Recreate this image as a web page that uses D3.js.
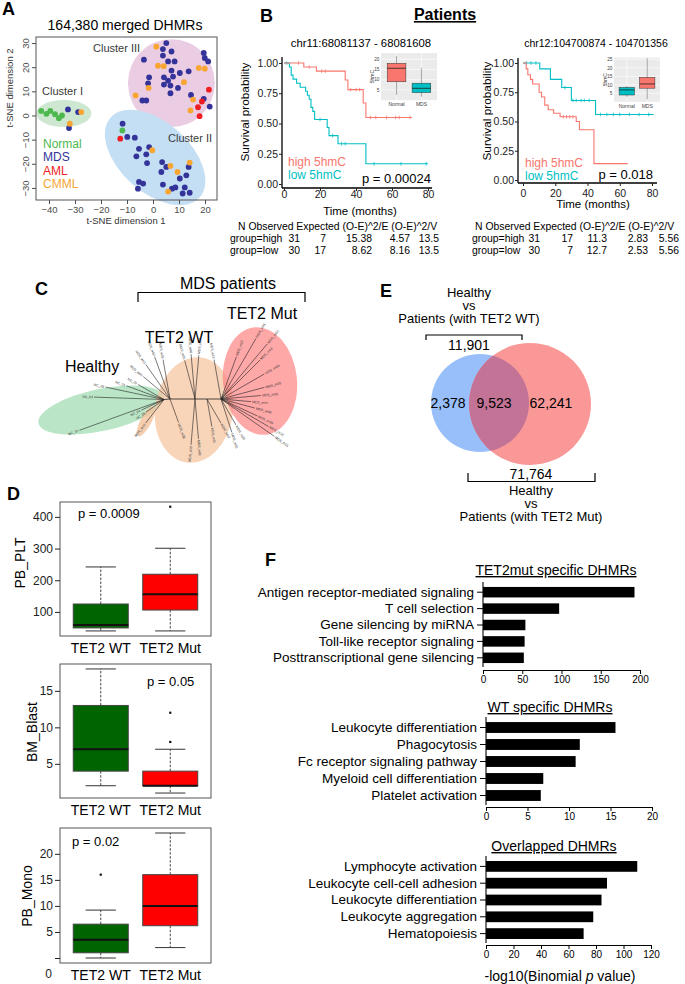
<!DOCTYPE html>
<html>
<head>
<meta charset="utf-8">
<script src="https://cdn.jsdelivr.net/npm/d3@7/dist/d3.min.js"></script>
<style>
html,body{margin:0;padding:0;background:#fff;}
svg{display:block;}
</style>
</head>
<body>
<script>
// ================= DATA =================
// Panel A: t-SNE coordinates by group
const tsneGroups = ["Normal","MDS","AML","CMML"];
const normalX = [-43,-41,-39.5,-37.7,-36.2,-35,-11.8];
const normalY = [1.9,0.7,1.9,0.5,-1.1,0,-6.2];
const mdsX = [-32.7,-28.8,-32.3,-11.7,-9.9,-7,-5.4,-6.4,-2.6,-1.5,-2.3,3.5,5.1,3.2,10.3,12.8,13.7,-5.4,-3.8,-5.8,3.8,7.3,8.6,12.2,11.4,14.1,5.1,3.8,7.1,3.8,5.8,8.3,-3.5,-1.5,-1.9,4.2,4.2,7.1,7.7,10.3,6.7,9.6,6.7,5.8,13.7,19.5,19.9,21.2,14.6,19.5,21.8,-4.1,-2.6];
const mdsY = [2.5,1.4,-5.2,-3.4,-8.9,-9.2,-13.8,-16.9,-16.1,-13.1,-19.7,-19.3,-21.3,-23.4,-26.1,-24.8,-21.3,-27.5,-28.2,-30.3,-28.6,-30.3,-29.8,-29.8,-32.3,-32,30,27.5,26.5,24.8,22.4,22.4,23.1,15.8,13.3,15.8,12.8,18.6,16.1,17.6,12.4,11.4,9.2,14.4,18.3,25.9,23.8,22.4,8.5,6.9,3.7,6.2,6.2];
const amlX = [-12.6,21.5,18.8,17.3,17.9];
const amlY = [-9.6,10.7,5.8,3.4,-0.3];
const cmmlX = [-27.6,-32,-0.3,6.7,9.4,14.1,5.8,1.3,1.9,4.1,-1.7,11.9,17.6,19.9,-6.7,15.4,14.4];
const cmmlY = [1.4,-3.4,-14.4,-20.9,-23.4,-19.5,-31.5,28.5,20.6,20.4,11.4,13.8,19.7,19.4,8.3,6.6,2.1];
const tsneXTicks = [-40,-30,-20,-10,0,10,20];
const tsneYTicks = [-30,-20,-10,0,10,20,30];
const clusterNames = ["Cluster I","Cluster II","Cluster III"];

// Panel B: Kaplan-Meier step curves
const kmTicksX = [0,20,40,60,80];
const kmTicksY = [0,0.25,0.5,0.75,1];
const kmLeftHighT = [0,11,18,34,35.5,44,45.5,71];
const kmLeftHighS = [1,0.967,0.933,0.86,0.78,0.67,0.55,0.55];
const kmLeftLowT = [0,3,4,5,7,9,12,13,14,15,16,17,24,25,30,45.5,80];
const kmLeftLowS = [1,0.967,0.9,0.867,0.833,0.8,0.767,0.733,0.7,0.633,0.6,0.533,0.467,0.4,0.333,0.167,0.167];
const kmRightHighT = [0,2,3,4.6,6,10,11.5,13.5,15.6,19,23,33,35,44,65];
const kmRightHighS = [1,0.95,0.9,0.86,0.82,0.75,0.71,0.64,0.6,0.57,0.54,0.5,0.43,0.14,0.14];
const kmRightLowT = [0,10.4,17,24,30,45,81];
const kmRightLowS = [1,0.95,0.86,0.79,0.68,0.56,0.56];
const leftHighCens = [8,14,21,23,37,40,42,48,51,57,62,64,70];
const leftLowCens = [1.5,20,27,32,34,50,65,79];
const rightHighCens = [25,27,29,31];
const rightLowCens = [2,5,8,26,31,33,36,38,41,48,52,56,60,66,72,78];
// inset boxplots [min,q1,median,q3,max]
const insetCats = ["Normal","MDS"];
const insetLeftNormal = [2.6,9,15.6,18,21.5];
const insetLeftMDS = [1.7,3.7,5.8,8.3,15.6];
const insetRightNormal = [3,4,7,8.5,9.3];
const insetRightMDS = [1.5,8,10.5,14.4,25.6];
const insetLeftTicks = [5,10,15,20];
const insetRightTicks = [5,10,15,20,25];
const tableHeader = "N Observed Expected (O-E)^2/E (O-E)^2/V";
const leftTableRows = [["group=high","31","7","15.38","4.57","13.5"],["group=low","30","17","8.62","8.16","13.5"]];
const rightTableRows = [["group=high","31","17","11.3","2.83","5.56"],["group=low","30","7","12.7","2.53","5.56"]];

// Panel C: unrooted tree (hub: id,parent,angle,length ; leaf: parent,angle,length,group,id)
const treeHubs = [["A","R",180,25],["B","A",185,6],["C","R",0,12],["D","C",0,14]];
const treeLeaves = [
 ["B",200,90,"H","NC_07"],["B",178,70,"H","NC_03"],["B",168,60,"H","NC_05"],["B",160,40,"H","NC_01"],
 ["B",150,30,"H","NC_02"],["B",205,25,"H","NC_04"],["B",215,22,"H","NC_06"],["B",232,30,"W","MDS_w14"],
 ["A",125,42,"W","MDS_w01"],["A",110,45,"W","MDS_w02"],["A",100,40,"W","MDS_w03"],["A",140,35,"W","MDS_w04"],
 ["R",105,40,"W","MDS_w05"],["R",95,45,"W","MDS_w06"],["R",85,44,"W","MDS_w07"],
 ["A",290,25,"W","MDS_w08"],["R",275,40,"W","MDS_w09"],["R",265,46,"W","MDS_w10"],["C",280,28,"W","MDS_w11"],
 ["C",300,28,"W","MDS_w12"],["D",100,40,"W","MDS_w13"],["D",300,30,"W","MDS_w15"],["D",288,35,"W","MDS_w16"],
 ["D",60,70,"M","MDS_m01"],["D",50,72,"M","MDS_m02"],["D",45,55,"M","MDS_m03"],["D",30,50,"M","MDS_m04"],
 ["D",15,45,"M","MDS_m05"],["D",5,40,"M","MDS_m06"],["D",-5,30,"M","MDS_m07"],["D",-15,35,"M","MDS_m08"],
 ["D",-25,40,"M","MDS_m09"],["D",-30,55,"M","MDS_m10"],["D",-35,65,"M","MDS_m11"],["D",70,45,"M","MDS_m12"]
];
const treeGroupNames = ["Healthy","TET2 WT","TET2 Mut"];

// Panel D: boxplots [min,q1,median,q3,max]
const dCats = ["TET2 WT","TET2 Mut"];
const pltWT = [40,49.5,59,125,242];
const pltMut = [40,106,156,219,301];
const pltMutOut = [432];
const pltTicks = [100,200,300,400];
const blastWT = [2,4,7,13,18];
const blastMut = [1,2,2,4,7];
const blastMutOut = [8,12];
const blastTicks = [5,10,15];
const monoWT = [0,1,3.5,6.5,9.2];
const monoWTOut = [16];
const monoMut = [2,6.2,10,16,24];
const monoTicks = [0,5,10,15,20];
const pValuesD = ["p = 0.0009","p = 0.05","p = 0.02"];

// Panel E: Venn
const vennRegions = ["2,378","9,523","62,241"];
const vennTotals = ["11,901","71,764"];
const vennSetNames = [["Healthy","vs","Patients (with TET2 WT)"],["Healthy","vs","Patients (with TET2 Mut)"]];

// Panel F: GO enrichment
const fTopTerms = ["Antigen receptor-mediated signaling","T cell selection","Gene silencing by miRNA","Toll-like receptor signaling","Posttranscriptional gene silencing"];
const fTopVals = [193,97,54,53,52];
const fTopTicks = [0,50,100,150,200];
const fMidTerms = ["Leukocyte differentiation","Phagocytosis","Fc receptor signaling pathway","Myeloid cell differentiation","Platelet activation"];
const fMidVals = [15.6,11.3,10.8,6.9,6.6];
const fMidTicks = [0,5,10,15,20];
const fBotTerms = ["Lymphocyte activation","Leukocyte cell-cell adhesion","Leukocyte differentiation","Leukocyte aggregation","Hematopoiesis"];
const fBotVals = [110,88,84,78,71];
const fBotTicks = [0,20,40,60,80,100,120];

// ================= DRAWING =================
const F = '"Liberation Sans", Arial, Helvetica, sans-serif';
const svg = d3.select("body").append("svg").attr("width",685).attr("height",984);
svg.append("rect").attr("width",685).attr("height",984).attr("fill","#fff");

function T(g,x,y,s,size,o={}){
  const t=g.append("text").attr("x",x).attr("y",y).text(s)
    .attr("font-size",size).attr("font-family",F)
    .attr("text-anchor",o.anchor||"start").attr("fill",o.fill||"#000");
  if(o.weight) t.attr("font-weight",o.weight);
  if(o.rotate!==undefined) t.attr("transform",`rotate(${o.rotate},${x},${y})`);
  if(o.underline) t.attr("text-decoration","underline");
  return t;
}
function styleAxis(sel,size,color,keepDomain){
  sel.attr("font-size",size).attr("font-family",F);
  sel.selectAll("text").attr("fill",color);
  sel.selectAll("line").attr("stroke",color);
  if(!keepDomain) sel.select(".domain").remove();
  else sel.select(".domain").attr("stroke",color);
}

// ---------- Panel A ----------
(function(){
  const g=svg.append("g");
  T(g,2,15,"A",18,{weight:"bold"});
  T(g,125,30,"164,380 merged DHMRs",14,{anchor:"middle"});
  const x=d3.scaleLinear().domain([-45,24.6]).range([36,217]);
  const y=d3.scaleLinear().domain([-35,32.5]).range([200,37]);
  const ells=[
    {cx:-34.3,cy:0.8,rx:10.6,ry:5.6,rot:0,fill:"#CDE7D0"},
    {cx:7.05,cy:13.4,rx:16.7,ry:18.2,rot:0,fill:"#EBCDE3"},
    {cx:0.8,cy:-17.4,rx:23,ry:14.5,rot:42,fill:"#C4DEF4"}];
  ells.forEach(e=>{
    const px=x(e.cx),py=y(e.cy);
    g.append("ellipse").attr("cx",px).attr("cy",py)
      .attr("rx",x(e.cx+e.rx)-px).attr("ry",py-y(e.cy+e.ry))
      .attr("transform",`rotate(${e.rot},${px},${py})`).attr("fill",e.fill);
  });
  const cols={Normal:"#4DB84E",MDS:"#333399",AML:"#F01E23",CMML:"#F8A532"};
  const sets=[["MDS",mdsX,mdsY],["Normal",normalX,normalY],["CMML",cmmlX,cmmlY],["AML",amlX,amlY]];
  sets.forEach(([k,xs,ys])=>{
    g.selectAll(null).data(xs.map((v,i)=>[v,ys[i]])).enter().append("circle")
      .attr("cx",d=>x(d[0])).attr("cy",d=>y(d[1])).attr("r",2.9).attr("fill",cols[k]);
  });
  g.append("rect").attr("x",36).attr("y",37).attr("width",181).attr("height",163)
    .attr("fill","none").attr("stroke","#555").attr("stroke-width",1);
  const fmt=d=>d===0?"0":String(d).replace("-","\u2212");
  const ax=g.append("g").attr("transform","translate(0,200)")
    .call(d3.axisBottom(x).tickValues(tsneXTicks).tickSize(4).tickPadding(2).tickFormat(fmt));
  styleAxis(ax,9.5,"#4D4D4D");
  const ay=g.append("g").attr("transform","translate(36,0)")
    .call(d3.axisLeft(y).tickValues(tsneYTicks).tickSize(4).tickFormat(fmt));
  styleAxis(ay,9.5,"#4D4D4D");
  ay.selectAll("text").attr("transform","rotate(-90)").attr("x",0).attr("y",-7.5).attr("dy",0).attr("text-anchor","middle");
  T(g,126,224,"t-SNE dimension 1",9.5,{anchor:"middle",fill:"#333"});
  T(g,13,88,"t-SNE dimension 2",9.5,{anchor:"middle",fill:"#333",rotate:-90});
  T(g,42,95,clusterNames[0],11,{fill:"#3a3a3a"});
  T(g,168,142,clusterNames[1],11,{fill:"#3a3a3a"});
  T(g,93,52,clusterNames[2],11,{fill:"#3a3a3a"});
  const ly=[147.5,161,174.5,188];
  tsneGroups.forEach((k,i)=>T(g,43,ly[i],k,12,{fill:cols[k]}));
})();

// ---------- Panel B ----------
T(svg,260,22,"B",18,{weight:"bold"});
T(svg,445,20,"Patients",16,{anchor:"middle",weight:"bold",underline:true});
function km(c){
  const g=svg.append("g");
  const x=d3.scaleLinear().domain([0,80]).range(c.xr);
  const y=d3.scaleLinear().domain([0,1]).range(c.yr);
  T(g,c.titleX,47,c.title,c.titleSize,{anchor:"middle"});
  const line=d3.line().x(d=>x(d[0])).y(d=>y(d[1])).curve(d3.curveStepAfter);
  const curves=[[c.lowT,c.lowS,c.lowC,"#00BFC4"],[c.highT,c.highS,c.highC,"#F8766D"]];
  curves.forEach(([ts,ss,cs,col])=>{
    g.append("path").attr("d",line(ts.map((t,i)=>[t,ss[i]]))).attr("fill","none").attr("stroke",col).attr("stroke-width",1.1);
    cs.forEach(t=>{
      const s=ss[Math.max(0,d3.bisectRight(ts,t)-1)];
      g.append("line").attr("x1",x(t)).attr("x2",x(t)).attr("y1",y(s)-1.8).attr("y2",y(s)+1.8).attr("stroke",col).attr("stroke-width",0.8);
    });
  });
  g.append("line").attr("x1",c.ax).attr("x2",c.ax).attr("y1",c.top).attr("y2",c.bot).attr("stroke","#000").attr("stroke-width",1.3);
  g.append("line").attr("x1",c.ax).attr("x2",c.right).attr("y1",c.bot).attr("y2",c.bot).attr("stroke","#000").attr("stroke-width",1.3);
  const ayG=g.append("g").attr("transform",`translate(${c.ax},0)`)
    .call(d3.axisLeft(y).tickValues(kmTicksY).tickFormat(d3.format(".2f")).tickSize(3).tickPadding(1));
  styleAxis(ayG,10.5,"#222");
  const axG=g.append("g").attr("transform",`translate(0,${c.bot})`)
    .call(d3.axisBottom(x).tickValues(kmTicksX).tickSize(3).tickPadding(c.xpad));
  styleAxis(axG,10.5,"#222");
  T(g,c.xlabX,c.xlabY,"Time (months)",11.5,{anchor:"middle"});
  T(g,c.ylabX,c.ylabY,"Survival probability",11.8,{anchor:"middle",rotate:-90});
  T(g,c.legX,c.legY,"high 5hmC",12,{fill:"#F8766D"});
  T(g,c.legX,c.legY+12.5,"low 5hmC",12,{fill:"#00BFC4"});
  T(g,c.pX,c.pY,c.p,13,{anchor:"end"});
  // inset
  const ig=g.append("g");
  const iy=d3.scaleLinear().domain(c.inDom).range(c.inRange);
  const ix=d3.scaleBand().domain(insetCats).range([c.inX0,c.inX1]).padding(0.25);
  ig.append("rect").attr("x",c.inX0).attr("y",c.inRange[1]).attr("width",c.inX1-c.inX0).attr("height",c.inRange[0]-c.inRange[1]).attr("fill","#EBEBEB");
  c.inTicks.forEach(v=>ig.append("line").attr("x1",c.inX0).attr("x2",c.inX1).attr("y1",iy(v)).attr("y2",iy(v)).attr("stroke","#fff").attr("stroke-width",0.6));
  insetCats.forEach(k=>ig.append("line").attr("x1",ix(k)+ix.bandwidth()/2).attr("x2",ix(k)+ix.bandwidth()/2).attr("y1",c.inRange[1]).attr("y2",c.inRange[0]).attr("stroke","#fff").attr("stroke-width",0.6));
  c.inData.forEach((b,i)=>{
    const k=insetCats[i],bx=ix(k),bw=ix.bandwidth(),cx=bx+bw/2;
    ig.append("line").attr("x1",cx).attr("x2",cx).attr("y1",iy(b[0])).attr("y2",iy(b[4])).attr("stroke","#555").attr("stroke-width",0.5);
    ig.append("rect").attr("x",bx).attr("y",iy(b[3])).attr("width",bw).attr("height",iy(b[1])-iy(b[3])).attr("fill",c.inCols[i]).attr("stroke","#333").attr("stroke-width",0.5);
    ig.append("line").attr("x1",bx).attr("x2",bx+bw).attr("y1",iy(b[2])).attr("y2",iy(b[2])).attr("stroke","#222").attr("stroke-width",0.8);
    T(ig,cx,c.inRange[0]+6,k,5,{anchor:"middle",fill:"#444"});
  });
  c.inTicks.forEach(v=>T(ig,c.inX0-1.5,iy(v)+1.7,String(v),4.8,{anchor:"end",fill:"#444"}));
  T(ig,c.inX0-7,(c.inRange[0]+c.inRange[1])/2,"5hmC",5,{anchor:"middle",fill:"#333",rotate:-90});
  // table
  const tg=g.append("g");
  T(tg,c.tabHeadX,230,tableHeader,10.4);
  c.rows.forEach((r,ri)=>{
    const yy=242+ri*12;
    T(tg,c.tabRowX,yy,r[0],10.4);
    for(let j=1;j<r.length;j++) T(tg,c.colR[j-1],yy,r[j],10.4,{anchor:"end"});
  });
}
km({xr:[284,428],yr:[184,63],ax:282,top:57,bot:188,right:432,xpad:0,
  title:"chr11:68081137 - 68081608",titleX:361,titleSize:11.3,
  highT:kmLeftHighT,highS:kmLeftHighS,highC:leftHighCens,lowT:kmLeftLowT,lowS:kmLeftLowS,lowC:leftLowCens,
  xlabX:360,xlabY:215,ylabX:249,ylabY:112,legX:288,legY:166,pX:431,pY:183,p:"p = 0.00024",
  inDom:[0,23],inRange:[100.2,53.1],inX0:381,inX1:437,inTicks:insetLeftTicks,
  inData:[insetLeftNormal,insetLeftMDS],inCols:["#F8766D","#00BFC4"],
  tabHeadX:238,tabRowX:230,rows:leftTableRows,colR:[300,326,372,410,439]});
km({xr:[523,652],yr:[180,63],ax:518,top:58,bot:183,right:657,xpad:3.5,
  title:"chr12:104700874 - 104701356",titleX:596,titleSize:10.5,
  highT:kmRightHighT,highS:kmRightHighS,highC:rightHighCens,lowT:kmRightLowT,lowS:kmRightLowS,lowC:rightLowCens,
  xlabX:593,xlabY:208,ylabX:491,ylabY:111,legX:525,legY:167,pX:653,pY:179,p:"p = 0.018",
  inDom:[0,26],inRange:[101.8,57.6],inX0:614,inX1:660,inTicks:insetRightTicks,
  inData:[insetRightNormal,insetRightMDS],inCols:["#00BFC4","#F8766D"],
  tabHeadX:475,tabRowX:472,rows:rightTableRows,colR:[540,573,607,648,679]});

// ---------- Panel C ----------
(function(){
  const g=svg.append("g");
  T(g,35,295,"C",18,{weight:"bold"});
  T(g,228,289,"MDS patients",16,{anchor:"middle"});
  g.append("path").attr("d","M138,302 V292.5 H305 V302").attr("fill","none").attr("stroke","#000").attr("stroke-width",1.2);
  T(g,262,319,treeGroupNames[2],16,{anchor:"middle"});
  T(g,179,343,treeGroupNames[1],16,{anchor:"middle"});
  T(g,92,372,treeGroupNames[0],16,{anchor:"middle"});
  const R=[195,399];
  const s=d3.scaleLinear().domain([0,1]).range([0,1]);
  const pos={R:R};
  const rad=a=>a*Math.PI/180;
  treeHubs.forEach(([id,p,a,l])=>{pos[id]=[pos[p][0]+s(l)*Math.cos(rad(a)),pos[p][1]-s(l)*Math.sin(rad(a))];});
  const ellC=[
    {dx:-94,dy:11,rx:64,ry:21,rot:-12,fill:"#9CDCAF",op:0.7},
    {dx:-49,dy:22,rx:17,ry:5.5,rot:-62,fill:"#F3C29C",op:0.8},
    {dx:-1,dy:11,rx:39,ry:53,rot:8,fill:"#F5C6A2",op:0.75},
    {dx:65,dy:-18,rx:37,ry:54,rot:-6,fill:"#FF8686",op:0.72}];
  ellC.forEach(e=>{
    const cx=R[0]+e.dx,cy=R[1]+e.dy;
    g.append("ellipse").attr("cx",cx).attr("cy",cy).attr("rx",e.rx).attr("ry",e.ry)
      .attr("transform",`rotate(${e.rot},${cx},${cy})`).attr("fill",e.fill).attr("fill-opacity",e.op);
  });
  treeHubs.forEach(([id,p])=>{
    g.append("line").attr("x1",pos[p][0]).attr("y1",pos[p][1]).attr("x2",pos[id][0]).attr("y2",pos[id][1]).attr("stroke","#222").attr("stroke-width",0.8);
  });
  treeLeaves.forEach(([p,a,l,grp,id])=>{
    const x2=pos[p][0]+s(l)*Math.cos(rad(a)),y2=pos[p][1]-s(l)*Math.sin(rad(a));
    g.append("line").attr("x1",pos[p][0]).attr("y1",pos[p][1]).attr("x2",x2).attr("y2",y2).attr("stroke","#222").attr("stroke-width",0.6);
    const left=Math.cos(rad(a))<0;
    const r=left?180-a:-a;
    const tx=x2+1.2*Math.cos(rad(a)),ty=y2-1.2*Math.sin(rad(a));
    g.append("text").attr("x",tx).attr("y",ty).attr("dy","0.35em").text(id)
      .attr("font-size",3.4).attr("font-family",F).attr("fill","#333")
      .attr("text-anchor",left?"end":"start").attr("transform",`rotate(${r},${tx},${ty})`);
  });
})();

// ---------- Panel D ----------
T(svg,7,500,"D",18,{weight:"bold"});
function boxD(c){
  const g=svg.append("g");
  const x=d3.scaleLinear().domain([0.5,2.5]).range([66,205]);
  const y=d3.scaleLinear().domain(c.dom).range([c.y1,c.y0]);
  const hw=27.5;
  const cols=["#006400","#FF0000"];
  c.data.forEach((b,i)=>{
    const cx=x(i+1);
    g.append("line").attr("x1",cx).attr("x2",cx).attr("y1",y(b[3])).attr("y2",y(b[4])).attr("stroke","#333").attr("stroke-dasharray","2.5,1.5").attr("stroke-width",0.9);
    g.append("line").attr("x1",cx).attr("x2",cx).attr("y1",y(b[1])).attr("y2",y(b[0])).attr("stroke","#333").attr("stroke-dasharray","2.5,1.5").attr("stroke-width",0.9);
    [b[0],b[4]].forEach(v=>g.append("line").attr("x1",cx-hw*0.55).attr("x2",cx+hw*0.55).attr("y1",y(v)).attr("y2",y(v)).attr("stroke","#333").attr("stroke-width",1));
    g.append("rect").attr("x",cx-hw).attr("y",y(b[3])).attr("width",2*hw).attr("height",y(b[1])-y(b[3])).attr("fill",cols[i]).attr("stroke","#444").attr("stroke-width",1);
    g.append("line").attr("x1",cx-hw).attr("x2",cx+hw).attr("y1",y(b[2])).attr("y2",y(b[2])).attr("stroke","#111").attr("stroke-width",2);
    (c.outs[i]||[]).forEach(v=>g.append("rect").attr("x",cx-1.1).attr("y",y(v)-1.1).attr("width",2.2).attr("height",2.2).attr("fill","#111"));
    T(g,cx,c.y1+17,dCats[i],14,{anchor:"middle"});
  });
  g.append("rect").attr("x",60).attr("y",c.y0).attr("width",151).attr("height",c.y1-c.y0).attr("fill","none").attr("stroke","#555").attr("stroke-width",1);
  const ay=g.append("g").attr("transform","translate(60,0)")
    .call(d3.axisLeft(y).tickValues(c.ticks).tickSize(5).tickPadding(2).tickFormat(v=>c.hide0&&v===0?"":String(v)));
  styleAxis(ay,12,"#222");
  T(g,c.ylx,c.yly,c.ylab,14,{anchor:"middle",rotate:-90});
  T(g,c.px,c.py,c.p,13);
  return g;
}
boxD({dom:[24,447],y0:502,y1:636,data:[pltWT,pltMut],outs:[[],pltMutOut],ticks:pltTicks,ylab:"PB_PLT",ylx:25,yly:563,p:pValuesD[0],px:78,py:518});
boxD({dom:[0.32,18.68],y0:664,y1:798,data:[blastWT,blastMut],outs:[[],blastMutOut],ticks:blastTicks,ylab:"BM_Blast",ylx:37,yly:732,p:pValuesD[1],px:147,py:686});
const gMono=boxD({dom:[-0.96,24.96],y0:828,y1:963,data:[monoWT,monoMut],outs:[monoWTOut,[]],ticks:monoTicks,hide0:true,ylab:"PB_Mono",ylx:32,yly:896,p:pValuesD[2],px:72,py:846});
T(gMono,52,978,String(monoTicks[0]),12,{anchor:"end",fill:"#222"});

// ---------- Panel E ----------
(function(){
  const g=svg.append("g");
  T(g,380,297,"E",18,{weight:"bold"});
  vennSetNames[0].forEach((l,i)=>T(g,469,297+i*13.2,l,13,{anchor:"middle"}));
  g.append("path").attr("d","M426,340 V335 H522 V340").attr("fill","none").attr("stroke","#000").attr("stroke-width",1.2);
  T(g,469,350,vennTotals[0],14,{anchor:"middle"});
  const b={cx:480,cy:403,r:49}, r={cx:530,cy:404,r:61};
  g.append("circle").attr("cx",b.cx).attr("cy",b.cy).attr("r",b.r).attr("fill","#98BFFA");
  g.append("circle").attr("cx",r.cx).attr("cy",r.cy).attr("r",r.r).attr("fill","#FA9898");
  svg.append("defs").append("clipPath").attr("id","clipBlue").append("circle").attr("cx",b.cx).attr("cy",b.cy).attr("r",b.r);
  g.append("circle").attr("cx",r.cx).attr("cy",r.cy).attr("r",r.r).attr("fill","#C27396").attr("clip-path","url(#clipBlue)");
  T(g,448,408,vennRegions[0],14,{anchor:"middle"});
  T(g,494,408,vennRegions[1],14,{anchor:"middle"});
  T(g,551,408,vennRegions[2],14,{anchor:"middle"});
  T(g,531,479,vennTotals[1],14,{anchor:"middle"});
  g.append("path").attr("d","M468,473 V481.5 H595 V473").attr("fill","none").attr("stroke","#000").attr("stroke-width",1.2);
  vennSetNames[1].forEach((l,i)=>T(g,531,495+i*13.2,l,13,{anchor:"middle"}));
})();

// ---------- Panel F ----------
T(svg,265,566,"F",18,{weight:"bold"});
function barF(c){
  const g=svg.append("g");
  const x=d3.scaleLinear().domain([0,c.max]).range([c.x0,c.x1]);
  const y=d3.scaleBand().domain(c.terms).range([c.yTop,c.yBot]).paddingInner(0.36).paddingOuter(0.18);
  g.selectAll(null).data(c.terms).enter().append("rect")
    .attr("x",x(0)).attr("y",d=>y(d)).attr("width",(d,i)=>x(c.vals[i])-x(0)).attr("height",y.bandwidth()).attr("fill","#000");
  const ay=g.append("g").attr("transform",`translate(${c.x0},0)`).call(d3.axisLeft(y).tickSize(6).tickPadding(3).tickSizeOuter(0));
  styleAxis(ay,13.5,"#000",true);
  ay.select(".domain").attr("d",`M0,${c.yTop-2}V${c.yBot+1}`).attr("stroke-width",1.1);
  ay.selectAll(".tick line").attr("stroke-width",1);
  const ax=g.append("g").attr("transform",`translate(0,${c.axY})`).call(d3.axisBottom(x).tickValues(c.ticks).tickSize(4).tickPadding(2).tickSizeOuter(0));
  styleAxis(ax,10,"#000",true);
  ax.select(".domain").attr("stroke-width",1.1);
  T(g,c.titleX,c.titleY,c.title,14,{anchor:"middle",underline:true});
}
barF({terms:fTopTerms,vals:fTopVals,max:200,x0:483,x1:640,yTop:584,yBot:666,axY:670,ticks:fTopTicks,title:"TET2mut specific DHMRs",titleX:556,titleY:575});
barF({terms:fMidTerms,vals:fMidVals,max:20,x0:486,x1:652,yTop:719,yBot:804,axY:807,ticks:fMidTicks,title:"WT specific DHMRs",titleX:550,titleY:712});
barF({terms:fBotTerms,vals:fBotVals,max:120,x0:486,x1:651,yTop:858,yBot:942,axY:945,ticks:fBotTicks,title:"Overlapped DHMRs",titleX:554,titleY:851});
(function(){
  const t=svg.append("text").attr("x",560).attr("y",981).attr("text-anchor","middle").attr("font-size",14).attr("font-family",F);
  t.append("tspan").text("-log10(Binomial ");
  t.append("tspan").attr("font-style","italic").text("p");
  t.append("tspan").text(" value)");
})();
</script>
</body>
</html>
